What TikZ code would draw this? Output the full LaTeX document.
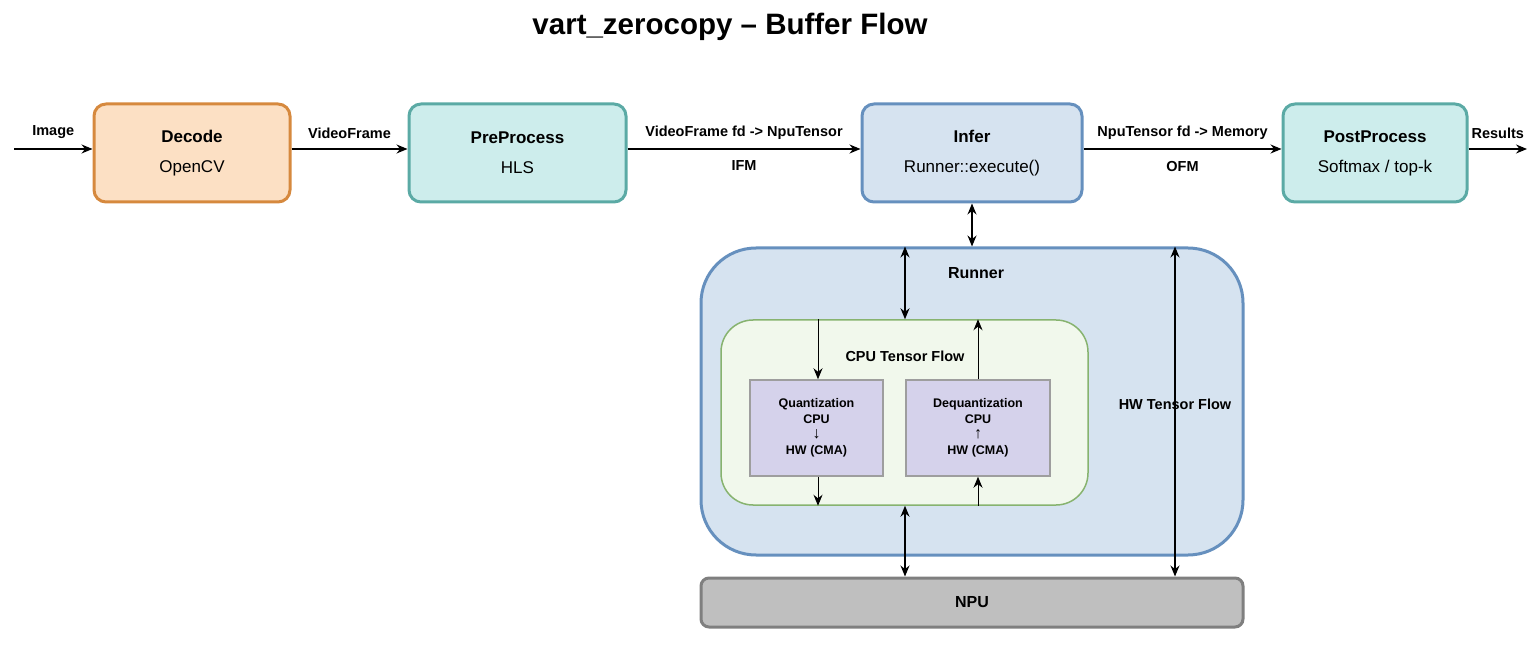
\documentclass[tikz,border=0pt]{standalone}
\usepackage{fontspec}
\setmainfont{Liberation Sans}
\usetikzlibrary{arrows.meta}
\definecolor{decF}{HTML}{FCE0C4}\definecolor{decD}{HTML}{D6893E}
\definecolor{tealF}{HTML}{CDEDEC}\definecolor{tealD}{HTML}{5BAAA5}
\definecolor{bluF}{HTML}{D6E3F0}\definecolor{bluD}{HTML}{6690BE}
\definecolor{grnF}{HTML}{F1F8EC}\definecolor{grnD}{HTML}{87B36F}
\definecolor{purF}{HTML}{D5D2EB}\definecolor{purD}{HTML}{9E9E9E}
\definecolor{npuF}{HTML}{BFBFBF}\definecolor{npuD}{HTML}{7F7F7F}
\tikzset{
 stage/.style={draw, line width=3pt, rounded corners=12pt, align=center, font=\fontsize{17}{22}\selectfont},
 qbox/.style={draw=purD, fill=purF, line width=1.5pt, align=center, font=\bfseries\fontsize{12.5}{15.5}\selectfont},
 lbl/.style={font=\bfseries\fontsize{14.5}{17}\selectfont},
 arr/.style={-{Stealth[length=11pt,width=9pt]}, line width=1.3pt},
 darr/.style={{Stealth[length=11pt,width=9pt]}-{Stealth[length=11pt,width=9pt]}, line width=1.3pt},
 sarr/.style={-{Stealth[length=11pt,width=9pt]}, line width=0.9pt},
}
\begin{document}
\begin{tikzpicture}[x=1pt,y=-1pt]
\useasboundingbox (0,0) rectangle (1540,652);
\node[font=\bfseries\fontsize{29.5}{33}\selectfont] (title) at (730,27) {vart\_zerocopy – Buffer Flow};
\node[stage, draw=decD, fill=decF, minimum width=196pt, minimum height=98pt] (dec) at (192,153) {\textbf{Decode}\\[8pt]OpenCV};
\node[stage, draw=tealD, fill=tealF, minimum width=217pt, minimum height=98pt] (pre) at (517.5,153) {\textbf{PreProcess}\\[8pt]HLS};
\node[stage, draw=bluD, fill=bluF, minimum width=220pt, minimum height=98pt] (inf) at (972,153) {\textbf{Infer}\\[8pt]Runner::execute()};
\node[stage, draw=tealD, fill=tealF, minimum width=184pt, minimum height=98pt] (post) at (1375,153) {\textbf{PostProcess}\\[8pt]Softmax / top-k};
\node[draw=bluD, fill=bluF, line width=3pt, rounded corners=55pt, minimum width=542pt, minimum height=307pt] (run) at (972,401.5) {};
\node[lbl, font=\bfseries\fontsize{16}{19}\selectfont] (runl) at (976,273) {Runner};
\node[draw=grnD, fill=grnF, line width=1.5pt, rounded corners=32pt, minimum width=367pt, minimum height=185pt] (cpu) at (904.5,412.5) {};
\node[lbl] (cpul) at (905,356) {CPU Tensor Flow};
\node[lbl] (hwl) at (1175,404) {HW Tensor Flow};
\node[qbox, minimum width=133pt, minimum height=96pt] (q) at (816.5,428) {Quantization\\CPU\\{\fontsize{16}{15.5}\selectfont ↓}\\HW (CMA)};
\node[qbox, minimum width=144pt, minimum height=96pt] (dq) at (978,428) {Dequantization\\CPU\\{\fontsize{16}{15.5}\selectfont ↑}\\HW (CMA)};
\node[draw=npuD, fill=npuF, line width=3pt, rounded corners=8pt, minimum width=542pt, minimum height=49pt, font=\bfseries\fontsize{16}{19}\selectfont] (npu) at (972,602.5) {NPU};
\coordinate (in) at (14,149);
\coordinate (out) at (1527,149);
\draw[arr] (in) -- (in -| dec.west) node[lbl, pos=0.5, above=6pt] {Image};
\draw[arr] (dec.east |- in) -- (pre.west |- in) node[lbl, midway, above=6pt] {VideoFrame};
\draw[arr] (pre.east |- in) -- (inf.west |- in) node[lbl, midway, above=6pt] {VideoFrame fd -> NpuTensor} node[lbl, midway, below=8pt] {IFM};
\draw[arr] (inf.east |- in) -- (post.west |- in) node[lbl, midway, above=6pt] {NpuTensor fd -> Memory} node[lbl, midway, below=8pt] {OFM};
\draw[arr] (post.east |- in) -- (out) node[lbl, midway, above=6pt] {Results};
\draw[darr] (inf.south) -- (run.north -| inf.south);
\draw[darr] (run.north -| cpul) -- (cpu.north -| cpul);
\draw[darr] (cpu.south -| cpul) -- (npu.north -| cpul);
\draw[darr] (run.north -| hwl) -- (npu.north -| hwl);
\draw[sarr] (cpu.north -| 818,0) -- (q.north -| 818,0);
\draw[sarr] (q.south -| 818,0) -- (cpu.south -| 818,0);
\draw[sarr] (dq.north) -- (cpu.north -| dq.north);
\draw[sarr] (cpu.south -| dq.south) -- (dq.south);
\end{tikzpicture}
\end{document}
